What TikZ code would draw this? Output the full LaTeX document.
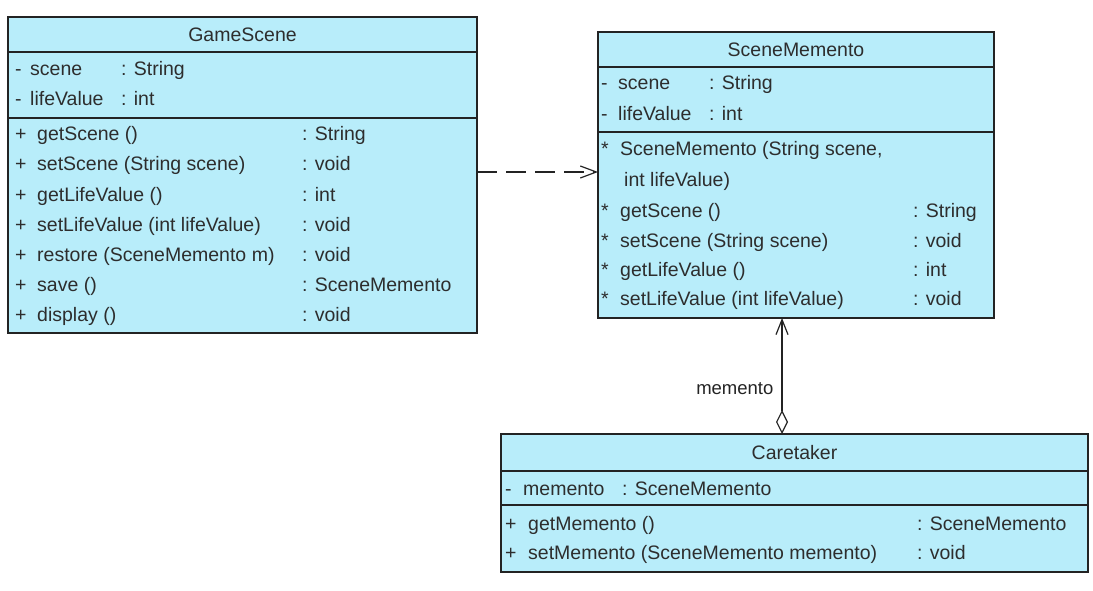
\documentclass[tikz,border=0pt]{standalone}
\usepackage{fontspec}
\setmainfont{Liberation Sans}
\definecolor{umlcyan}{RGB}{184,237,250}
\definecolor{umlline}{RGB}{35,35,35}
\definecolor{umltext}{RGB}{45,45,45}
\usetikzlibrary{arrows.meta,positioning}

\begin{document}
\begin{tikzpicture}[x=1pt, y=1pt,
    font=\fontsize{19.5}{23}\selectfont, text=umltext,
    part/.style={draw=umlline, fill=umlcyan, line width=1.2pt, outer sep=0pt,
      inner sep=0pt, anchor=north west, minimum width=#1},
    member/.style={anchor=base west, inner sep=0pt}]
  \useasboundingbox (0,0) rectangle (1093,-591);

  % GameScene class
  \node[part=469, minimum height=35] (gameHead) at (8,-17) {GameScene};
  \node[part=469, minimum height=66, below=0pt of gameHead] (gameAttr) {};
  \node[part=469, minimum height=215, below=0pt of gameAttr] (gameOps) {};
  \foreach \y/\name/\type [count=\i] in {76/scene/String, 106/lifeValue/int}{
    \node[member] (gameAttrSym\i) at (15,-\y) {-};
    \node[member] (gameAttrName\i) at (30,-\y) {\name};
    \node[member] (gameAttrType\i) at (121,-\y) {: \type};
  }
  \foreach \y/\name/\type [count=\i] in {
    141/getScene ()/String,
    171/setScene (String scene)/void,
    201/getLifeValue ()/int,
    231/setLifeValue (int lifeValue)/void,
    261/restore (SceneMemento m)/void,
    291/save ()/SceneMemento,
    321/display ()/void
  }{
    \node[member] (gameOpSym\i) at (15,-\y) {+};
    \node[member] (gameOpName\i) at (37,-\y) {\name};
    \node[member] (gameOpType\i) at (302,-\y) {: \type};
  }

  % SceneMemento class
  \node[part=396, minimum height=35] (memHead) at (598,-32) {SceneMemento};
  \node[part=396, minimum height=65, below=0pt of memHead] (memAttr) {};
  \node[part=396, minimum height=186, below=0pt of memAttr] (memOps) {};
  \foreach \y/\name/\type [count=\i] in {90/scene/String, 121/lifeValue/int}{
    \node[member] (memAttrSym\i) at (601,-\y) {-};
    \node[member] (memAttrName\i) at (618,-\y) {\name};
    \node[member] (memAttrType\i) at (709,-\y) {: \type};
  }
  \node[member] (memCtorSym) at (601,-156) {*};
  \node[member] (memCtorName) at (620,-156) {SceneMemento (String scene,};
  \node[member] (memCtorArg) at (624,-186) {int lifeValue)};
  \foreach \y/\name/\type [count=\i] in {
    217/getScene ()/String,
    247/setScene (String scene)/void,
    276/getLifeValue ()/int,
    305/setLifeValue (int lifeValue)/void
  }{
    \node[member] (memOpSym\i) at (601,-\y) {*};
    \node[member] (memOpName\i) at (620,-\y) {\name};
    \node[member] (memOpType\i) at (913,-\y) {: \type};
  }

  % Caretaker class
  \node[part=587, minimum height=37] (careHead) at (501,-434) {Caretaker};
  \node[part=587, minimum height=34, below=0pt of careHead] (careAttr) {};
  \node[part=587, minimum height=67, below=0pt of careAttr] (careOps) {};
  \node[member] (careAttrSym) at (505,-495) {-};
  \node[member] (careAttrName) at (523,-495) {memento};
  \node[member] (careAttrType) at (622,-495) {: SceneMemento};
  \foreach \y/\name/\type [count=\i] in {
    530/getMemento ()/SceneMemento,
    559/setMemento (SceneMemento memento)/void
  }{
    \node[member] (careOpSym\i) at (505,-\y) {+};
    \node[member] (careOpName\i) at (528,-\y) {\name};
    \node[member] (careOpType\i) at (917,-\y) {: \type};
  }

  % dependency GameScene -> SceneMemento
  \draw[umlline, line width=1.2pt, dash pattern=on 20pt off 9pt,
        -{Straight Barb[length=16pt,width=12pt]}]
    ([yshift=-54pt]gameOps.north east) -- ([yshift=-40pt]memOps.north west);
  % aggregation Caretaker -> SceneMemento
  \draw[umlline, line width=1.2pt,
        {Diamond[open,fill=white,length=24pt,width=12pt]}-{Straight Barb[length=15pt,width=12pt]}]
    ([xshift=-12.5pt]careHead.north) coordinate (aggFoot)
      -- (aggFoot |- memOps.south)
      node[pos=0.39, left=8pt, inner sep=0pt, font=\fontsize{18.5}{22}\selectfont] (aggLabel) {memento};
\end{tikzpicture}
\end{document}
